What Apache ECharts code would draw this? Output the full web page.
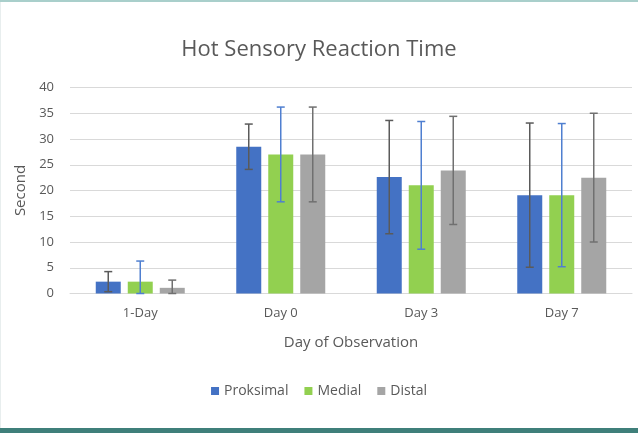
<!DOCTYPE html>
<html>
<head>
<meta charset="utf-8">
<script src="https://cdn.jsdelivr.net/npm/echarts@6/dist/echarts.min.js"></script>
<style>
html,body{margin:0;padding:0;background:#fff;}
#chart{width:638px;height:433px;}
</style>
</head>
<body>
<div id="chart"></div>
<script>
var categories = ['1-Day', 'Day 0', 'Day 3', 'Day 7'];
var seriesNames = ['Proksimal', 'Medial', 'Distal'];
var proksimal = [2.3, 28.5, 22.6, 19.1];
var proksimalSD = [1.95, 4.4, 11.0, 14.0];
var medial = [2.3, 27.0, 21.0, 19.1];
var medialSD = [4.0, 9.2, 12.4, 13.9];
var distal = [1.1, 27.0, 23.9, 22.5];
var distalSD = [1.5, 9.2, 10.5, 12.5];
var yTicks = [0, 5, 10, 15, 20, 25, 30, 35, 40];

var barColors = ['#4472C4', '#92D050', '#A5A5A5'];
var errColors = ['#5a5a5a', '#4f7fd0', '#707070'];
var means = [proksimal, medial, distal];
var sds = [proksimalSD, medialSD, distalSD];
var offsets = [-32, 0, 32];
var font = '"Open Sans", "Liberation Sans", sans-serif';

function errSeries(k) {
  var data = categories.map(function (c, i) {
    return [i, Math.max(0, means[k][i] - sds[k][i]), means[k][i] + sds[k][i]];
  });
  return {
    type: 'custom',
    name: seriesNames[k] + ' err',
    z: 10,
    silent: true,
    data: data,
    encode: { x: 0, y: [1, 2] },
    renderItem: function (params, api) {
      var lo = api.coord([api.value(0), api.value(1)]);
      var hi = api.coord([api.value(0), api.value(2)]);
      var x = lo[0] + offsets[k];
      var hw = 4;
      var st = { stroke: errColors[k], lineWidth: 1.5 };
      return {
        type: 'group',
        children: [
          { type: 'line', shape: { x1: x, y1: lo[1], x2: x, y2: hi[1] }, style: st },
          { type: 'line', shape: { x1: x - hw, y1: hi[1], x2: x + hw, y2: hi[1] }, style: st },
          { type: 'line', shape: { x1: x - hw, y1: lo[1], x2: x + hw, y2: lo[1] }, style: st }
        ]
      };
    }
  };
}

var series = [];
for (var k = 0; k < 3; k++) {
  series.push({
    type: 'bar',
    name: seriesNames[k],
    data: means[k],
    barWidth: 25,
    barGap: '28%',
    itemStyle: { color: barColors[k] }
  });
}
for (var k2 = 0; k2 < 3; k2++) series.push(errSeries(k2));

var chart = echarts.init(document.getElementById('chart'), null, { renderer: 'canvas' });
chart.setOption({
  animation: false,
  backgroundColor: '#ffffff',
  title: {
    text: 'Hot Sensory Reaction Time',
    left: 'center',
    top: 34,
    textStyle: { fontFamily: font, fontSize: 22, fontWeight: 'normal', color: '#595959' }
  },
  legend: {
    data: seriesNames,
    bottom: 30,
    left: 'center',
    itemWidth: 8,
    itemHeight: 8,
    itemGap: 16,
    icon: 'rect',
    textStyle: { fontFamily: font, fontSize: 14, color: '#595959' }
  },
  grid: { left: 70, top: 87.5, width: 562, height: 206, containLabel: false },
  xAxis: {
    type: 'category',
    data: categories,
    name: 'Day of Observation',
    nameLocation: 'middle',
    nameGap: 42,
    nameTextStyle: { fontFamily: font, fontSize: 15, color: '#595959' },
    axisLine: { lineStyle: { color: '#d9d9d9', width: 1 } },
    axisTick: { show: false },
    axisLabel: { fontFamily: font, fontSize: 13, color: '#595959', margin: 13 }
  },
  yAxis: {
    type: 'value',
    min: yTicks[0],
    max: yTicks[yTicks.length - 1],
    interval: 5,
    name: 'Second',
    nameLocation: 'middle',
    nameGap: 42,
    nameRotate: 90,
    nameTextStyle: { fontFamily: font, fontSize: 15, color: '#595959' },
    axisLine: { show: false },
    axisTick: { show: false },
    axisLabel: { fontFamily: font, fontSize: 13, color: '#595959', margin: 16 },
    splitLine: { lineStyle: { color: '#d9d9d9', width: 1 } }
  },
  graphic: [
    { type: 'rect', shape: { x: 0, y: 0, width: 638, height: 2 }, style: { fill: '#a9cfcb' }, silent: true },
    { type: 'rect', shape: { x: 0, y: 428, width: 638, height: 5 }, style: { fill: '#3f7f7a' }, silent: true },
    { type: 'rect', shape: { x: 0, y: 2, width: 1, height: 426 }, style: { fill: '#e8eeee' }, silent: true }
  ],
  series: series
});
</script>
</body>
</html>
